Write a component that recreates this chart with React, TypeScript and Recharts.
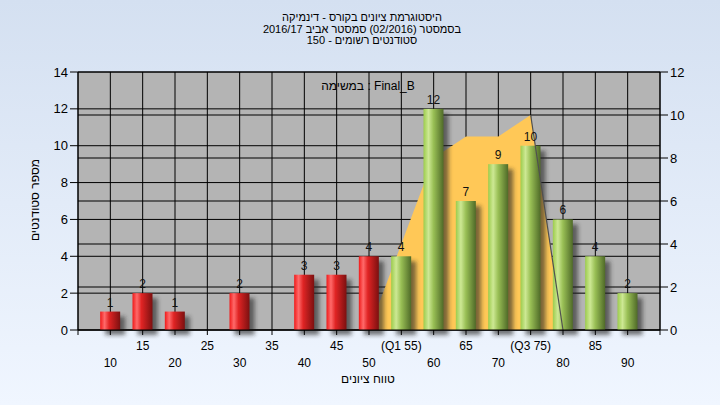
import React from "react";
import {
  ComposedChart,
  Bar,
  Area,
  Line,
  XAxis,
  YAxis,
  CartesianGrid,
  LabelList,
} from "recharts";

// score buckets and student counts per bucket
const scores = [10, 15, 20, 25, 30, 35, 40, 45, 50, 55, 60, 65, 70, 75, 80, 85, 90];
const students = [1, 2, 1, 0, 2, 0, 3, 3, 4, 4, 12, 7, 9, 10, 6, 4, 2];
// yellow band between Q1 and Q3 (right axis)
const spread = [null, null, null, null, null, null, null, null, 0, 4, 8, 9, 9, 10, 0, null, null];
const dropLine = [null, null, null, null, null, null, null, null, null, null, null, null, null, 10, 0, null, null];

const xTicks = [5, 10, 15, 20, 25, 30, 35, 40, 45, 50, 55, 60, 65, 70, 75, 80, 85, 90, 95];
const xTickLabels = ["", "10", "15", "20", "25", "30", "35", "40", "45", "50", "(Q1 55)", "60", "65", "70", "(Q3 75)", "80", "85", "90", ""];
const leftTicks = [0, 2, 4, 6, 8, 10, 12, 14];
const rightTicks = [0, 2, 4, 6, 8, 10, 12];

const titleLines = [
  "היסטוגרמת ציונים בקורס - דינמיקה",
  "בסמסטר  (02/2016)  סמסטר אביב 2016/17",
  "סטודנטים רשומים - 150",
];
const taskLabel = "במשימה : Final_B";
const xTitle = "טווח ציונים";
const yTitle = "מספר סטודנטים";

const data = scores.map((s, i) => ({
  score: s,
  count: students[i],
  spread: spread[i],
  drop: dropLine[i],
}));

const FONT = "'Liberation Sans', Arial, sans-serif";

function ScoreTick(props: any) {
  const { x, y, payload } = props;
  const i = xTicks.indexOf(payload.value);
  const label = xTickLabels[i] ?? "";
  const dy = i % 2 === 1 ? 30 : 13;
  return (
    <text x={x} y={y + dy} textAnchor="middle" fontSize={12} fill="#000" fontFamily={FONT}>
      {label}
    </text>
  );
}

function CylinderBar(props: any) {
  const { x, y, width, height, payload } = props;
  if (!height || height <= 0) return null;
  const fill = payload.score <= 50 ? "url(#redBar)" : "url(#greenBar)";
  return (
    <g>
      <rect x={x + 5} y={y + 5} width={width} height={height} fill="#222" opacity={0.6} filter="url(#barShadow)" />
      <rect x={x} y={y} width={width} height={height} fill={fill} />
    </g>
  );
}

export default function App() {
  return (
    <div
      style={{
        position: "absolute",
        left: 0,
        top: 0,
        width: 720,
        height: 405,
        background: "linear-gradient(to bottom, #d4e0f1, #f0f6ff)",
        fontFamily: FONT,
      }}
    >
      <svg width={0} height={0} style={{ position: "absolute" }}>
        <defs>
          <linearGradient id="redBar" x1="0" y1="0" x2="1" y2="0">
            <stop offset="0%" stopColor="#f01a1a" />
            <stop offset="22%" stopColor="#ff6a6a" />
            <stop offset="45%" stopColor="#e02424" />
            <stop offset="100%" stopColor="#7c1010" />
          </linearGradient>
          <linearGradient id="greenBar" x1="0" y1="0" x2="1" y2="0">
            <stop offset="0%" stopColor="#9ccc4c" />
            <stop offset="25%" stopColor="#cde894" />
            <stop offset="50%" stopColor="#99bf55" />
            <stop offset="100%" stopColor="#4f6a28" />
          </linearGradient>
          <filter id="barShadow" x="-50%" y="-20%" width="200%" height="140%">
            <feGaussianBlur stdDeviation="2" />
          </filter>
        </defs>
      </svg>

      <div style={{ position: "absolute", left: 0, width: 724, top: 12, textAlign: "center", fontSize: 11, lineHeight: "11.5px", color: "#000" }}>
        {titleLines.map((t) => (
          <div key={t}>{t}</div>
        ))}
      </div>

      <ComposedChart
        width={720}
        height={405}
        data={data}
        margin={{ top: 72, right: 0, bottom: 0, left: 0 }}
      >
        <CartesianGrid yAxisId="left" stroke="#000" fill="#b4b4b4" />
        <CartesianGrid yAxisId="right" stroke="#000" vertical={false} />
        <XAxis
          dataKey="score"
          type="number"
          domain={[5, 95]}
          ticks={xTicks}
          interval={0}
          height={75}
          tickSize={5}
          stroke="#000"
          tick={<ScoreTick />}
        />
        <YAxis
          yAxisId="left"
          domain={[0, 14]}
          ticks={leftTicks}
          width={78}
          tickSize={8}
          stroke="#000"
          tick={{ fill: "#000", fontSize: 13, fontFamily: FONT }}
        />
        <YAxis
          yAxisId="right"
          orientation="right"
          domain={[0, 12]}
          ticks={rightTicks}
          width={60}
          tickSize={8}
          stroke="#000"
          tick={{ fill: "#000", fontSize: 13, fontFamily: FONT }}
        />
        <Area
          yAxisId="right"
          dataKey="spread"
          type="linear"
          fill="#ffc857"
          fillOpacity={1}
          stroke="none"
          isAnimationActive={false}
        />
        <Line
          yAxisId="right"
          dataKey="drop"
          type="linear"
          stroke="#505050"
          strokeWidth={1.2}
          dot={false}
          isAnimationActive={false}
        />
        <Bar
          yAxisId="left"
          dataKey="count"
          barSize={20}
          shape={<CylinderBar />}
          isAnimationActive={false}
        >
          <LabelList
            dataKey="count"
            position="top"
            fontSize={12}
            fill="#111"
            fontFamily={FONT}
            formatter={(v: any) => (v ? v : "")}
          />
        </Bar>
      </ComposedChart>

      <div style={{ position: "absolute", left: 268, width: 200, top: 79, textAlign: "center", fontSize: 12, color: "#000" }}>
        {taskLabel}
      </div>
      <div style={{ position: "absolute", left: 268, width: 200, top: 372, textAlign: "center", fontSize: 12, color: "#000" }}>
        {xTitle}
      </div>
      <div
        style={{
          position: "absolute",
          left: 35,
          top: 200,
          fontSize: 12,
          color: "#000",
          whiteSpace: "nowrap",
          transform: "translate(-50%, -50%) rotate(-90deg)",
        }}
      >
        {yTitle}
      </div>
    </div>
  );
}
